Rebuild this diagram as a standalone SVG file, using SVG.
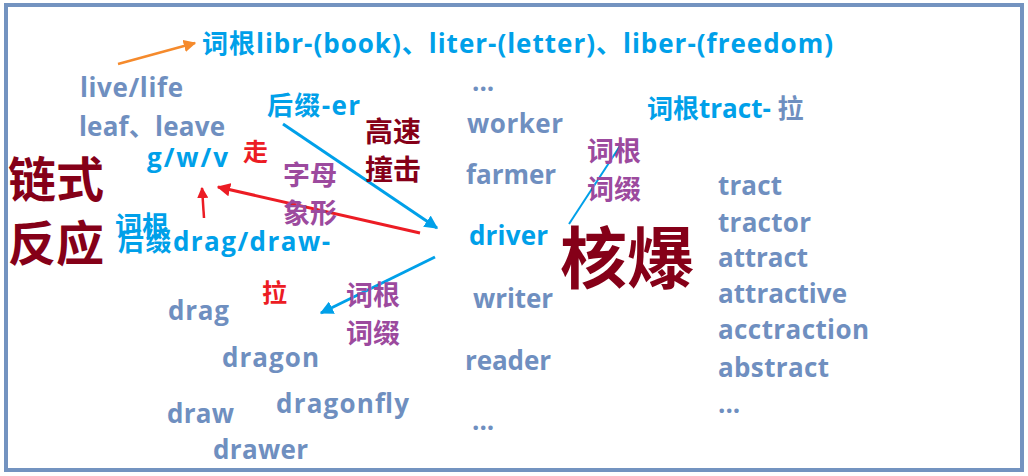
<svg xmlns="http://www.w3.org/2000/svg" width="1028" height="476" viewBox="0 0 1028 476">
<defs>
<style>
text{font-family:"Open Sans","Noto Sans CJK SC",sans-serif;font-weight:bold}
.cj{font-family:"Noto Sans CJK SC",sans-serif;font-weight:bold}
.b{fill:#00a0e9}
.g{fill:#6f8fc0}
.dr{fill:#850018}
.p{fill:#9c4a9e}
.r{fill:#ec1c24}
.w{font-size:26px}
</style>
<marker id="mb" viewBox="0 0 10 10" refX="9" refY="5" markerWidth="4.5" markerHeight="4.5" orient="auto" markerUnits="strokeWidth"><path d="M0,0L10,5L0,10z" fill="#00a0e9"/></marker>
<marker id="mr" viewBox="0 0 10 10" refX="9" refY="5" markerWidth="4.5" markerHeight="4.5" orient="auto" markerUnits="strokeWidth"><path d="M0,0L10,5L0,10z" fill="#ec1c24"/></marker>
<marker id="mo" viewBox="0 0 10 10" refX="9" refY="5" markerWidth="5" markerHeight="5" orient="auto" markerUnits="strokeWidth"><path d="M0,0L10,5L0,10z" fill="#f58a2c"/></marker>
</defs>
<rect x="0" y="0" width="1028" height="476" fill="#fff"/>
<rect x="6" y="5" width="1016" height="465" fill="none" stroke="#7393c0" stroke-width="4"/>

<g id="connectors" fill="none">
<line x1="118" y1="64" x2="195" y2="43" stroke="#f58a2c" stroke-width="2.5" marker-end="url(#mo)"/>
<line x1="283" y1="124" x2="437" y2="228" stroke="#00a0e9" stroke-width="3" marker-end="url(#mb)"/>
<line x1="420" y1="233" x2="218" y2="187" stroke="#ec1c24" stroke-width="3" marker-end="url(#mr)"/>
<line x1="204" y1="218" x2="202" y2="188" stroke="#ec1c24" stroke-width="2.5" marker-end="url(#mr)"/>
<line x1="435" y1="257" x2="321" y2="313" stroke="#00a0e9" stroke-width="3" marker-end="url(#mb)"/>
<line x1="569" y1="224" x2="620" y2="146" stroke="#00a0e9" stroke-width="2"/>
</g>

<g id="title"><text x="202" y="53" class="b" font-size="26" textLength="631">词根libr-(book)、liter-(letter)、liber-(freedom)</text></g>

<g id="left-words">
<text x="80" y="97" class="g w" textLength="103">live/life</text>
<text x="79" y="136" class="g w" textLength="146">leaf、leave</text>
<text x="147" y="167" class="b w" textLength="81">g/w/v</text>
<text x="243" y="161" class="r cj" font-size="25">走</text>
<text x="8" y="197" class="dr cj" font-size="48">链式</text>
<text x="8" y="261" class="dr cj" font-size="48">反应</text>
<text x="267" y="115" class="b w" textLength="93">后缀-er</text>
<text x="365" y="142" class="dr cj" font-size="28">高速</text>
<text x="365" y="180" class="dr cj" font-size="28">撞击</text>
<text x="283" y="185" class="p cj" font-size="27">字母</text>
<text x="283" y="223" class="p cj" font-size="27">象形</text>
<text x="115" y="236" class="b cj" font-size="27">词根</text>
<text x="118" y="251" class="b w" textLength="212">后缀drag/draw-</text>
<text x="262" y="302" class="r cj" font-size="25">拉</text>
<text x="346" y="305" class="p cj" font-size="27">词根</text>
<text x="346" y="343" class="p cj" font-size="27">词缀</text>
<text x="168" y="320" class="g w" textLength="61">drag</text>
<text x="222" y="367" class="g w" textLength="97">dragon</text>
<text x="167" y="423" class="g w" textLength="67">draw</text>
<text x="276" y="413" class="g w" textLength="133">dragonfly</text>
<text x="213" y="459" class="g w" textLength="95">drawer</text>
</g>

<g id="middle-words">
<text x="472" y="91" class="g w">...</text>
<text x="467" y="133" class="g w" textLength="96">worker</text>
<text x="466" y="184" class="g w" textLength="90">farmer</text>
<text x="469" y="245" class="b w" textLength="79">driver</text>
<text x="473" y="308" class="g w" textLength="80">writer</text>
<text x="465" y="370" class="g w" textLength="86">reader</text>
<text x="472" y="430" class="g w">...</text>
</g>

<g id="right-words">
<text x="647" y="118" class="w"><tspan class="b">词根tract-</tspan><tspan class="g"> 拉</tspan></text>
<text x="587" y="161" class="p cj" font-size="27">词根</text>
<text x="587" y="199" class="p cj" font-size="27">词缀</text>
<text x="560" y="283" class="dr cj" font-size="67">核爆</text>
<text x="718" y="195" class="g w" textLength="64">tract</text>
<text x="718" y="232" class="g w" textLength="93">tractor</text>
<text x="718" y="267" class="g w" textLength="90">attract</text>
<text x="718" y="303" class="g w" textLength="129">attractive</text>
<text x="718" y="339" class="g w" textLength="151">acctraction</text>
<text x="718" y="377" class="g w" textLength="111">abstract</text>
<text x="718" y="413" class="g w">...</text>
</g>
</svg>
